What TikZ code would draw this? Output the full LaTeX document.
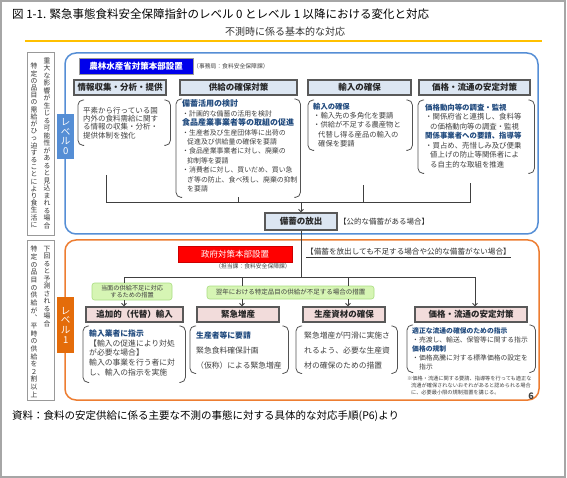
\documentclass[tikz,border=0pt]{standalone}
\usepackage{fontspec}
\setmainfont{Noto Sans CJK JP}
\usetikzlibrary{arrows.meta,positioning}
\definecolor{frameblue}{RGB}{85,142,213}
\definecolor{tabblue}{RGB}{85,142,213}
\definecolor{hqblue}{RGB}{0,0,235}
\definecolor{headfill}{RGB}{220,230,242}
\definecolor{pinkfill}{RGB}{242,220,219}
\definecolor{headblue}{RGB}{31,73,125}
\definecolor{bodygray}{RGB}{64,64,64}
\definecolor{linegray}{RGB}{64,64,64}
\definecolor{frameorange}{RGB}{237,125,49}
\definecolor{taborange}{RGB}{228,108,10}
\definecolor{lime}{RGB}{214,245,180}
\definecolor{limeline}{RGB}{170,220,130}
\definecolor{gold}{RGB}{255,192,0}

% one character per line, for the vertical labels
\newcommand\vtext[1]{\vtextA#1\relax}
\def\vtextA#1{#1\vtextB}
\def\vtextB#1{\ifx\relax#1\expandafter\vtextEnd\else\expandafter\vtextC\fi#1}
\def\vtextC#1{\\#1\vtextB}
\def\vtextEnd#1{}
\newcommand\bluehead[1]{{\color{headblue}\bfseries #1}}

\tikzset{
	headbox/.style={
		draw=gray!70!black, line width=1.1pt, fill=headfill,
		inner sep=0pt, minimum height=15pt, text=black!85,
		font=\fontsize{8.5}{9}\selectfont\bfseries
	},
	pinkbox/.style={headbox, fill=pinkfill},
	hqbox/.style={
		draw=black!40, line width=0.5pt, text=white, inner sep=0pt,
		minimum height=16pt, font=\fontsize{8.5}{9}\selectfont\bfseries
	},
	tab/.style={
		inner sep=0pt, text=white, align=center, minimum width=17pt,
		font=\fontsize{9.5}{9.6}\selectfont
	},
	brk/.style={draw=gray!65!black, line width=0.8pt, rounded corners=5pt},
	pane/.style={inner sep=0pt},
}
\newcommand\parenframe[1]{%
	\draw[brk] ([xshift=6pt]#1.north west) -- (#1.north west) -- (#1.south west) -- ([xshift=6pt]#1.south west);
	\draw[brk] ([xshift=-6pt]#1.north east) -- (#1.north east) -- (#1.south east) -- ([xshift=-6pt]#1.south east);}

\begin{document}
\begin{tikzpicture}[
		x=1pt, y=-1pt,
		>={Straight Barb[length=2.5pt,width=5pt]},
		conn/.style={draw=linegray, line width=0.9pt},
		bodytext/.style={anchor=north west, align=left, inner sep=0pt, text=bodygray},
		greenbox/.style={draw=limeline, fill=lime, rounded corners=2.5pt, inner sep=0pt,
			align=center, text=black!75, line width=0.6pt},
		vbox/.style={draw=gray!80, line width=0.8pt, fill=white, inner sep=0pt, anchor=north west},
		vcol/.style={anchor=north, align=center, inner sep=0pt, text=black!80},
		note/.style={inner sep=0pt, text=black!75}
		]
		\useasboundingbox (0,0) rectangle (567,478);
		\draw[gray!70, line width=1.5pt] (1,1) rectangle (565,477);
		
		% title
		\node[note, anchor=west, text=black, font=\fontsize{11.5}{12}\selectfont] (title) at (12,14)
			{図 1-1. 緊急事態食料安全保障指針のレベル 0 とレベル 1 以降における変化と対応};
		\node[note, text=black!80, font=\fontsize{10}{11}\selectfont] (subtitle) at (285,32) {不測時に係る基本的な対応};
		\draw[gold, line width=2.2pt] (25,41) -- (542,41);
		
		% conditions, written vertically
		\node[vbox, minimum width=27pt, minimum height=183pt] (s0) at (27,52) {};
		\node[vcol, font=\fontsize{6.8}{7.5}\selectfont] (s0r) at (47,57.5) {\vtext{重大な影響が生じる可能性があると見込まれる場合}};
		\node[vcol, font=\fontsize{6.8}{7.2}\selectfont] (s0l) at (34,63) {\vtext{特定の品目の需給がひっ迫することにより食生活に}};
		\node[vbox, minimum width=27pt, minimum height=160pt] (s1) at (27,240) {};
		\node[vcol, font=\fontsize{6.8}{7.5}\selectfont] (s1r) at (47,246) {\vtext{下回ると予測される場合}};
		\node[vcol, font=\fontsize{6.8}{7.65}\selectfont] (s1l) at (34,246) {\vtext{特定の品目の供給が︑平時の供給を２割以上}};
		
		% level 0
		\draw[frameblue, line width=1.5pt, rounded corners=11pt] (65,53) rectangle (538,234);
		\node[tab, fill=tabblue, minimum height=45pt, anchor=north west] (tab0) at (57,114) {\vtext{レベル0}};
		\node[hqbox, fill=hqblue, minimum width=114pt] (hq0) at (136,66) {農林水産省対策本部設置};
		\node[note, anchor=west, font=\fontsize{5.8}{6}\selectfont] (office0) at (193,66) {（事務局：食料安全保障課）};
		
		\node[headbox, minimum width=92pt] (h01) at (120,87.5) {情報収集・分析・提供};
		\node[headbox, minimum width=117pt] (h02) at (238.5,87.5) {供給の確保対策};
		\node[headbox, minimum width=103pt] (h03) at (359.5,87.5) {輸入の確保};
		\node[headbox, minimum width=111pt] (h04) at (474.5,87.5) {価格・流通の安定対策};
		
		\node[pane, minimum width=92pt, minimum height=45pt, anchor=north west] (c01) at (78,100) {};
		\node[pane, minimum width=124pt, minimum height=98pt, anchor=north west] (c02) at (176,99) {};
		\node[pane, minimum width=104pt, minimum height=50pt, anchor=north west] (c03) at (308,100) {};
		\node[pane, minimum width=116pt, minimum height=73pt, anchor=north west] (c04) at (418,100) {};
		\parenframe{c01}
		\parenframe{c02}
		\parenframe{c03}
		\parenframe{c04}
		
		\node[bodytext, font=\fontsize{7.5}{8.4}\selectfont] (t01) at (83,106.6)
			{平素から行っている国\\内外の食料需給に関す\\る情報の収集・分析・\\提供体制を強化};
		\node[bodytext, font=\fontsize{6.9}{9.4}\selectfont] (t02) at (182,99.8)
			{{\fontsize{8}{9.4}\selectfont\bluehead{備蓄活用の検討}}\\
			・計画的な備蓄の活用を検討\\
			{\fontsize{8}{9.4}\selectfont\bluehead{食品産業事業者等の取組の促進}}\\
			・生産者及び生産団体等に出荷の\\
			\hspace*{5pt}促進及び供給量の確保を要請\\
			・食品産業事業者に対し、廃棄の\\
			\hspace*{5pt}抑制等を要請\\
			・消費者に対し、買いだめ、買い急\\
			\hspace*{5pt}ぎ等の防止、食べ残し、廃棄の抑制\\
			\hspace*{5pt}を要請};
		\node[bodytext, font=\fontsize{7.3}{9.3}\selectfont] (t03) at (313,102.8)
			{\bluehead{輸入の確保}\\
			・輸入先の多角化を要請\\
			・供給が不足する農産物と\\
			\hspace*{5pt}代替し得る産品の輸入の\\
			\hspace*{5pt}確保を要請};
		\node[bodytext, font=\fontsize{7.4}{9.5}\selectfont] (t04) at (425,103.8)
			{\bluehead{価格動向等の調査・監視}\\
			・関係府省と連携し、食料等\\
			\hspace*{5pt}の価格動向等の調査・監視\\
			\bluehead{関係事業者への要請、指導等}\\
			・買占め、売惜しみ及び便乗\\
			\hspace*{5pt}値上げの防止等関係者によ\\
			\hspace*{5pt}る自主的な取組を推進};
		
		% release of stocks
		\node[headbox, minimum width=72pt, minimum height=17pt] (r0) at (301,221.5) {備蓄の放出};
		\node[note, anchor=west, text=black!80, font=\fontsize{7.5}{8}\selectfont] (r0note) at (339,221.5) {【公的な備蓄がある場合】};
		
		\coordinate (bus0) at (0,202);
		\coordinate (d01) at (106,175);
		\coordinate (d03) at (363,185);
		\coordinate (d04) at (470,183);
		\draw[conn] (d01) |- (bus0 -| d04) -- (d04);
		\draw[conn] (c02.south) -- (c02.south |- bus0);
		\draw[conn] (d03) -- (d03 |- bus0);
		\draw[conn,->] (r0.north |- bus0) -- (r0.north);
		
		% level 1
		\draw[frameorange, line width=1.5pt, rounded corners=11pt] (65,240) rectangle (539,400);
		\node[tab, fill=taborange, minimum height=56pt, anchor=north west] (tab1) at (57,297) {\vtext{レベル1}};
		\node[hqbox, fill=red, draw=red!80!black, font=\fontsize{8.5}{9}\selectfont, minimum width=114pt] (hq1) at (235,254) {政府対策本部設置};
		\node[note, font=\fontsize{5.8}{6}\selectfont] (office1) at (253,266) {（担当課：食料安全保障課）};
		\node[note, anchor=west, text=black!80, font=\fontsize{7.6}{8}\selectfont] (cond1) at (306,253)
			{\underline{【備蓄を放出しても不足する場合や公的な備蓄がない場合】}};
		
		\node[greenbox, minimum width=80pt, minimum height=17pt, font=\fontsize{6.2}{7}\selectfont] (g1) at (132,291.5)
			{当面の供給不足に対応\\するための措置};
		\node[greenbox, minimum width=167pt, minimum height=13pt, font=\fontsize{6.5}{7}\selectfont] (g2) at (290.5,292.5)
			{翌年における特定品目の供給が不足する場合の措置};
		
		\node[pinkbox, minimum width=97pt] (h11) at (134.5,314.5) {追加的（代替）輸入};
		\node[pinkbox, minimum width=82pt] (h12) at (238,314.5) {緊急増産};
		\node[pinkbox, minimum width=82pt] (h13) at (344,314.5) {生産資材の確保};
		\node[pinkbox, minimum width=112pt] (h14) at (471,314.5) {価格・流通の安定対策};
		
		\node[pane, minimum width=102pt, minimum height=56pt, anchor=north west] (c11) at (83,326) {};
		\node[pane, minimum width=98pt, minimum height=47pt, anchor=north west] (c12) at (190,326) {};
		\node[pane, minimum width=101pt, minimum height=47pt, anchor=north west] (c13) at (296,326) {};
		\node[pane, minimum width=128pt, minimum height=47pt, anchor=north west] (c14) at (407,325) {};
		\parenframe{c11}
		\parenframe{c12}
		\parenframe{c13}
		\parenframe{c14}
		
		\node[bodytext, font=\fontsize{7.8}{9.75}\selectfont] (t11) at (89,329.6)
			{\bluehead{輸入業者に指示}\\
			【輸入の促進により対処\\
			が必要な場合】\\
			輸入の事業を行う者に対\\
			し、輸入の指示を実施};
		\node[bodytext, font=\fontsize{7.8}{15}\selectfont] (t12) at (196,331.6)
			{\bluehead{生産者等に要請}\\緊急食料確保計画\\（仮称）による緊急増産};
		\node[bodytext, font=\fontsize{7.8}{15}\selectfont] (t13) at (304,331.6)
			{緊急増産が円滑に実施さ\\れるよう、必要な生産資\\材の確保のための措置};
		\node[bodytext, font=\fontsize{6.8}{9}\selectfont] (t14) at (412,327)
			{\bluehead{適正な流通の確保のための指示}\\
			・売渡し、輸送、保管等に関する指示\\
			\bluehead{価格の規制}\\
			・価格高騰に対する標準価格の設定を\\
			\hspace*{7pt}指示};
		\node[bodytext, font=\fontsize{5.2}{7}\selectfont] (foot1) at (407,375.8)
			{※価格・流通に関する要請、指導等を行っても適正な\\
			\hspace*{4pt}流通が確保されないおそれがあると認められる場合\\
			\hspace*{4pt}に、必要最小限の規制措置を講じる。};
		\node[note, font=\fontsize{9}{9}\selectfont\bfseries] (pageno) at (531,396) {6};
		
		\coordinate (bus1) at (0,277);
		\coordinate (k1) at (124,277);
		\coordinate (k2) at (242,277);
		\coordinate (k3) at (348,277);
		\coordinate (k4) at (475,277);
		\draw[conn] (r0.south) -- (r0.south |- bus1);
		\draw[conn] (k1) -- (k4);
		\draw[conn] (k1) -- (k1 |- g1.north);
		\draw[conn] (k2) -- (k2 |- g2.north);
		\draw[conn] (k3) -- (k3 |- g2.north);
		\draw[conn,->] (k1 |- g1.south) -- (k1 |- h11.north);
		\draw[conn,->] (k2 |- g2.south) -- (k2 |- h12.north);
		\draw[conn,->] (k3 |- g2.south) -- (k3 |- h13.north);
		\draw[conn,->] (k4) -- (k4 |- h14.north);
		
		% source
		\node[note, anchor=west, text=black, font=\fontsize{10.5}{11}\selectfont] (source) at (12,416)
			{資料：食料の安定供給に係る主要な不測の事態に対する具体的な対応手順(P6)より};
	\end{tikzpicture}
\end{document}
